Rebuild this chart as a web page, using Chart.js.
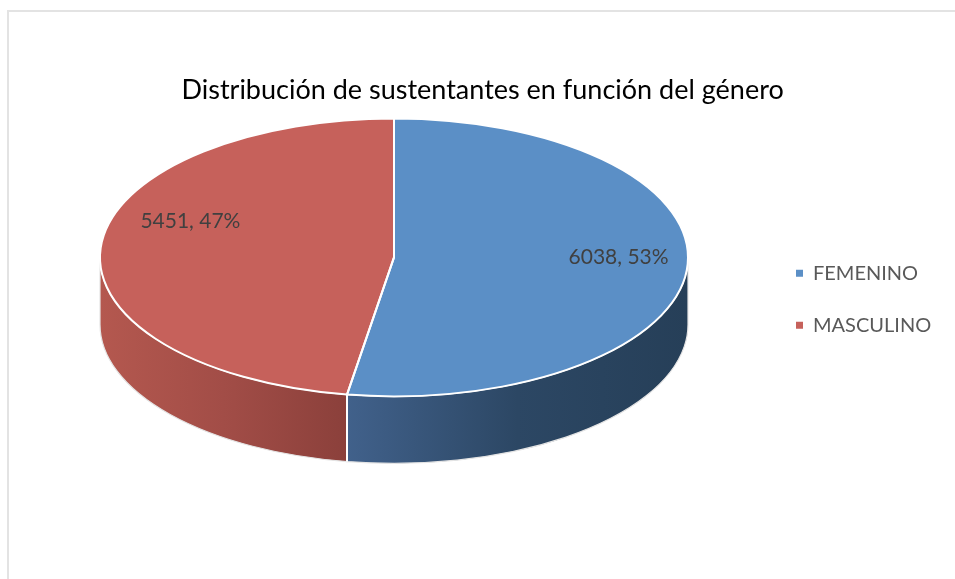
<!DOCTYPE html>
<html>
<head>
<meta charset="utf-8">
<script src="https://cdn.jsdelivr.net/npm/chart.js@4.4.1/dist/chart.umd.min.js"></script>
<style>
  html, body { margin: 0; padding: 0; background: #fff; overflow: hidden; }
  #frame { position: absolute; left: 7px; top: 10px; width: 2000px; height: 2000px;
           border-left: 2px solid #e3e3e3; border-top: 2px solid #e3e3e3; }
  #c { position: absolute; left: 0; top: 0; }
</style>
</head>
<body>
<div id="frame"></div>
<canvas id="c" width="955" height="579"></canvas>
<script>
// ---- data ----
const chartTitle = 'Distribución de sustentantes en función del género';
const categories = ['FEMENINO', 'MASCULINO'];
const values = [6038, 5451];

// ---- style ----
const topColors = ['#5B8FC6', '#C6615B'];
const sideLight = ['#41618B', '#B4584F'];
const sideMid = ['#2C4764', '#A24D47'];
const sideDark = ['#263F58', '#8B403B'];
const FONT = 'Lato, "Open Sans", sans-serif';
const LEGEND_SIZE = 20;
const LEGEND_PAD = 32;
const LEGEND_BOX = 7;

const total = values.reduce((a, b) => a + b, 0);

// legend width (as Chart.js computes it) so the pie stays centred left of it
const mctx = document.createElement('canvas').getContext('2d');
mctx.font = LEGEND_SIZE + 'px ' + FONT;
const maxText = Math.max(...categories.map(t => mctx.measureText(t).width));
const legendWidth = LEGEND_PAD + LEGEND_BOX + LEGEND_SIZE / 2 + maxText + 10;
const legendLeft = 764;
const padRight = Math.max(0, 955 - legendLeft - legendWidth);

function frontRanges(s, e) {
  const out = [];
  for (let k = -1; k <= 1; k++) {
    const a = Math.max(s + 2 * Math.PI * k, 0);
    const b = Math.min(e + 2 * Math.PI * k, Math.PI);
    if (b > a) out.push([a, b]);
  }
  return out;
}

const pie3d = {
  id: 'pie3d',
  beforeDatasetsDraw(chart, args, opts) {
    const arcs = chart.getDatasetMeta(0).data;
    if (!arcs.length) return;
    const ctx = chart.ctx;
    const cx = arcs[0].x, cy = arcs[0].y, R = arcs[0].outerRadius;
    const ry = R * opts.tilt;
    const top = chart.chartArea.top + ry;
    chart.$pie3d = { cx, cy, R, ry, top };
    // extruded sides (front half only)
    arcs.forEach((arc, i) => {
      frontRanges(arc.startAngle, arc.endAngle).forEach(([a, b]) => {
        const xa = cx + R * Math.cos(a), xb = cx + R * Math.cos(b);
        const g = ctx.createLinearGradient(Math.min(xa, xb), 0, Math.max(xa, xb), 0);
        g.addColorStop(0, sideLight[i]);
        g.addColorStop(0.5, sideMid[i]);
        g.addColorStop(1, sideDark[i]);
        ctx.beginPath();
        ctx.ellipse(cx, top, R, ry, 0, a, b);
        ctx.ellipse(cx, top + opts.depth, R, ry, 0, b, a, true);
        ctx.closePath();
        ctx.fillStyle = g;
        ctx.fill();
        ctx.lineWidth = 1.2;
        ctx.strokeStyle = '#e4e4e4';
        ctx.stroke();
      });
    });
    // white vertical edges where slices meet on the front side
    ctx.strokeStyle = '#ffffff';
    ctx.lineWidth = 2;
    arcs.forEach(arc => {
      const n = ((arc.startAngle % (2 * Math.PI)) + 2 * Math.PI) % (2 * Math.PI);
      if (n > 0 && n < Math.PI) {
        const x = cx + R * Math.cos(n), y = top + ry * Math.sin(n);
        ctx.beginPath();
        ctx.moveTo(x, y);
        ctx.lineTo(x, y + opts.depth);
        ctx.stroke();
      }
    });
    // flatten the top face
    ctx.save();
    ctx.translate(cx, top);
    ctx.scale(1, opts.tilt);
    ctx.translate(-cx, -cy);
  },
  afterDatasetsDraw(chart, args, opts) {
    const p = chart.$pie3d;
    if (!p) return;
    const ctx = chart.ctx;
    ctx.restore();
    const arcs = chart.getDatasetMeta(0).data;
    // white outlines of the top face
    ctx.strokeStyle = '#ffffff';
    ctx.lineWidth = 2;
    ctx.lineJoin = 'round';
    arcs.forEach(arc => {
      ctx.beginPath();
      ctx.moveTo(p.cx, p.top);
      ctx.lineTo(p.cx + p.R * Math.cos(arc.startAngle), p.top + p.ry * Math.sin(arc.startAngle));
      ctx.ellipse(p.cx, p.top, p.R, p.ry, 0, arc.startAngle, arc.endAngle);
      ctx.closePath();
      ctx.stroke();
    });
    // data labels
    ctx.fillStyle = '#404040';
    ctx.font = '21px ' + FONT;
    ctx.textAlign = 'center';
    ctx.textBaseline = 'middle';
    arcs.forEach((arc, i) => {
      const mid = (arc.startAngle + arc.endAngle) / 2;
      const off = opts.labelOffsets[i] || [0, 0];
      const x = p.cx + p.R * opts.labelRadius * Math.cos(mid) + off[0];
      const y = p.top + p.ry * opts.labelRadius * Math.sin(mid) + off[1];
      const pct = Math.round(values[i] / total * 100);
      ctx.fillText(values[i] + ', ' + pct + '%', x, y);
    });
  }
};

new Chart(document.getElementById('c'), {
  type: 'pie',
  data: {
    labels: categories,
    datasets: [{
      data: values,
      backgroundColor: topColors,
      borderWidth: 0,
      radius: 294,
      clip: false
    }]
  },
  options: {
    responsive: false,
    animation: false,
    events: [],
    layout: { padding: { left: 24, right: padRight, top: 0, bottom: 99 } },
    plugins: {
      title: {
        display: true,
        text: chartTitle,
        color: '#000000',
        font: { family: FONT, size: 27, weight: 'normal', lineHeight: 1.2 },
        padding: { top: 74, bottom: 12 }
      },
      legend: {
        position: 'right',
        fullSize: false,
        labels: {
          boxWidth: LEGEND_BOX,
          boxHeight: LEGEND_BOX,
          padding: LEGEND_PAD,
          color: '#595959',
          font: { family: FONT, size: LEGEND_SIZE }
        }
      },
      tooltip: { enabled: false },
      pie3d: {
        tilt: 139 / 294,
        depth: 67,
        labelRadius: 0.78,
        labelOffsets: [[-4, -9], [25, -27]]
      }
    }
  },
  plugins: [pie3d]
});
</script>
</body>
</html>
